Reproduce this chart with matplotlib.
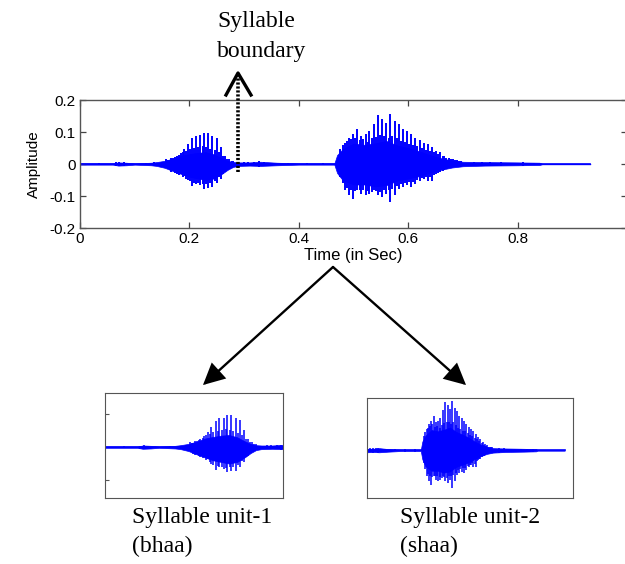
import matplotlib
matplotlib.use('agg')
import matplotlib.pyplot as plt
from matplotlib.patches import FancyArrowPatch
from matplotlib.lines import Line2D

# dense core of the speech waveform (upper / lower envelope)
core_t = [0.00, 0.06, 0.07, 0.085, 0.10, 0.13, 0.14, 0.155, 0.17, 0.185, 0.20,
          0.215, 0.23, 0.245, 0.26, 0.27, 0.28, 0.29, 0.31, 0.33, 0.36, 0.40,
          0.465, 0.47, 0.48, 0.50, 0.52, 0.54, 0.56, 0.58, 0.60, 0.62, 0.64,
          0.66, 0.68, 0.70, 0.74, 0.80, 0.84, 0.845, 0.933]
core_hi = [0.002, 0.002, 0.005, 0.004, 0.002, 0.004, 0.006, 0.010, 0.017, 0.026, 0.031,
           0.035, 0.037, 0.030, 0.017, 0.010, 0.006, 0.005, 0.005, 0.007, 0.004, 0.002,
           0.002, 0.028, 0.046, 0.064, 0.060, 0.065, 0.072, 0.058, 0.050, 0.040, 0.028,
           0.018, 0.011, 0.007, 0.006, 0.005, 0.004, 0.001, 0.001]
core_lo = [-0.002, -0.002, -0.005, -0.004, -0.002, -0.004, -0.006, -0.012, -0.022, -0.031, -0.040,
           -0.045, -0.050, -0.045, -0.030, -0.018, -0.009, -0.006, -0.005, -0.006, -0.004, -0.002,
           -0.002, -0.028, -0.050, -0.064, -0.064, -0.070, -0.066, -0.052, -0.045, -0.038, -0.027,
           -0.018, -0.011, -0.007, -0.005, -0.004, -0.003, -0.001, -0.001]

# pitch pulses of syllable 1 (bhaa)
pulse1_t = [0.158, 0.164, 0.170, 0.177, 0.184, 0.191, 0.197, 0.205, 0.212, 0.220,
            0.227, 0.234, 0.242, 0.250, 0.258, 0.265, 0.273, 0.280]
pulse1_hi = [0.015, 0.012, 0.020, 0.025, 0.035, 0.046, 0.062, 0.080, 0.088, 0.090,
             0.098, 0.098, 0.088, 0.082, 0.052, 0.026, 0.015, 0.010]
pulse1_lo = [-0.012, -0.020, -0.022, -0.030, -0.030, -0.036, -0.050, -0.070, -0.062, -0.067,
             -0.077, -0.074, -0.072, -0.060, -0.046, -0.026, -0.015, -0.010]
# smaller oscillations between the pulses
mid1_t = [0.161, 0.167, 0.174, 0.181, 0.188, 0.194, 0.201, 0.209, 0.216, 0.224,
          0.231, 0.238, 0.246, 0.254, 0.262, 0.269, 0.277]
mid1_hi = [0.012, 0.018, 0.022, 0.028, 0.036, 0.040, 0.046, 0.050, 0.052, 0.055,
           0.052, 0.048, 0.044, 0.036, 0.026, 0.016, 0.009]
mid1_lo = [-0.016, -0.024, -0.028, -0.034, -0.040, -0.046, -0.054, -0.058, -0.060, -0.064,
           -0.062, -0.060, -0.054, -0.042, -0.030, -0.019, -0.011]

# pitch pulses of syllable 2 (shaa)
pulse2_t = [0.476, 0.484, 0.491, 0.499, 0.507, 0.514, 0.522, 0.529, 0.537, 0.545,
            0.552, 0.560, 0.567, 0.575, 0.583, 0.590, 0.598, 0.605, 0.613, 0.621,
            0.628, 0.636, 0.643, 0.651, 0.659, 0.666, 0.674, 0.681, 0.689, 0.697]
pulse2_hi = [0.046, 0.067, 0.082, 0.093, 0.108, 0.088, 0.093, 0.103, 0.126, 0.153,
             0.142, 0.129, 0.157, 0.134, 0.124, 0.108, 0.103, 0.093, 0.082, 0.074,
             0.067, 0.062, 0.052, 0.041, 0.036, 0.026, 0.020, 0.016, 0.012, 0.010]
pulse2_lo = [-0.041, -0.082, -0.098, -0.108, -0.082, -0.093, -0.098, -0.093, -0.082, -0.098,
             -0.103, -0.093, -0.119, -0.098, -0.077, -0.072, -0.067, -0.072, -0.062, -0.052,
             -0.046, -0.052, -0.052, -0.031, -0.026, -0.019, -0.013, -0.009, -0.006, -0.005]
mid2_t = [0.480, 0.488, 0.495, 0.503, 0.511, 0.518, 0.526, 0.533, 0.541, 0.549,
          0.556, 0.564, 0.571, 0.579, 0.587, 0.594, 0.602, 0.609, 0.617, 0.625,
          0.632, 0.640, 0.647, 0.655, 0.663, 0.670, 0.678, 0.685, 0.693]
mid2_hi = [0.058, 0.072, 0.078, 0.082, 0.075, 0.078, 0.070, 0.080, 0.085, 0.090,
           0.088, 0.082, 0.088, 0.080, 0.072, 0.068, 0.062, 0.060, 0.055, 0.050,
           0.044, 0.040, 0.036, 0.030, 0.024, 0.018, 0.015, 0.012, 0.010]
mid2_lo = [-0.060, -0.075, -0.080, -0.085, -0.082, -0.080, -0.083, -0.086, -0.085, -0.088,
           -0.082, -0.080, -0.078, -0.070, -0.062, -0.060, -0.056, -0.055, -0.050, -0.045,
           -0.040, -0.042, -0.035, -0.027, -0.022, -0.017, -0.012, -0.009, -0.006]

# small noise blips in the quiet parts
noise_t = [0.035, 0.065, 0.072, 0.080, 0.120, 0.135, 0.300, 0.308, 0.318, 0.327,
           0.336, 0.350, 0.380, 0.415, 0.445, 0.72, 0.735, 0.75, 0.77, 0.79, 0.81, 0.83]
noise_amp = [0.003, 0.005, 0.006, 0.005, 0.003, 0.005, 0.006, 0.007, 0.006, 0.008,
             0.005, 0.004, 0.003, 0.004, 0.004, 0.007, 0.006, 0.005, 0.005, 0.004, 0.005, 0.004]

x_ticks = [0, 0.2, 0.4, 0.6, 0.8]
x_labels = ['0', '0.2', '0.4', '0.6', '0.8']
y_ticks = [-0.2, -0.1, 0, 0.1, 0.2]
y_labels = ['-0.2', '-0.1', '0', '0.1', '0.2']

BLUE = '#0000ff'
W, H = 625, 564


def draw_wave(ax, lw=1.4):
    ax.fill_between(core_t, core_lo, core_hi, color=BLUE, lw=0.5)
    ax.vlines(mid1_t, mid1_lo, mid1_hi, color=BLUE, lw=lw)
    ax.vlines(mid2_t, mid2_lo, mid2_hi, color=BLUE, lw=lw)
    ax.vlines(pulse1_t, pulse1_lo, pulse1_hi, color=BLUE, lw=lw)
    ax.vlines(pulse2_t, pulse2_lo, pulse2_hi, color=BLUE, lw=lw)
    ax.vlines(noise_t, [-a for a in noise_amp], noise_amp, color=BLUE, lw=lw)
    ax.plot([core_t[0], core_t[-1]], [0, 0], color=BLUE, lw=1.2)


def fx(px):
    return px / W


def fy(py):
    return 1 - py / H


fig = plt.figure(figsize=(6.25, 5.64), dpi=100)

# main waveform
ax = fig.add_axes([fx(80), fy(228), fx(547), 128 / H])
draw_wave(ax)
ax.set_xlim(0, 1)
ax.set_ylim(-0.2, 0.2)
ax.set_xticks(x_ticks)
ax.set_xticklabels(x_labels)
ax.set_yticks(y_ticks)
ax.set_yticklabels(y_labels)
ax.tick_params(direction='in', length=4, width=0.9, top=True, right=True,
               labelsize=11, colors='#444444', pad=3)
for lab in ax.get_xticklabels() + ax.get_yticklabels():
    lab.set_family('Liberation Sans')
    lab.set_color('black')
for s in ax.spines.values():
    s.set_color('#555555')
    s.set_linewidth(1.0)
ax.set_xlabel('Time (in Sec)', family='Liberation Sans', fontsize=12, labelpad=1)
ax.set_ylabel('Amplitude', family='Liberation Sans', fontsize=11, labelpad=6)

# syllable unit 1
ax1 = fig.add_axes([fx(105), fy(498), fx(178), 105 / H])
draw_wave(ax1, lw=1.1)
ax1.set_xlim(0, 0.33)
ax1.set_ylim(-0.155, 0.165)
ax1.set_xticks([])
ax1.set_yticks([-0.1, 0.1])
ax1.set_yticklabels([])
ax1.tick_params(direction='in', length=3, width=0.8, colors='#555555')
for s in ax1.spines.values():
    s.set_color('#555555')

# syllable unit 2
ax2 = fig.add_axes([fx(367), fy(498), fx(206), 100 / H])
draw_wave(ax2, lw=1.1)
ax2.set_xlim(0.29, 0.96)
ax2.set_ylim(-0.15, 0.165)
ax2.set_xticks([])
ax2.set_yticks([])
for s in ax2.spines.values():
    s.set_color('#555555')

# syllable boundary marker
fig.add_artist(Line2D([fx(238), fx(238)], [fy(172), fy(76)], color='black',
                      lw=2.6, linestyle=(0, (0.6, 0.5))))
fig.add_artist(Line2D([fx(226), fx(238), fx(251)], [fy(95), fy(73), fy(95)],
                      color='black', lw=2.4))
fig.text(fx(217), fy(22), 'Syllable', family='Liberation Serif', fontsize=17,
         va='center', ha='left')
fig.text(fx(217), fy(51), 'boundary', family='Liberation Serif', fontsize=17,
         va='center', ha='left')

# arrows to the segmented units
for tip in [(203, 385), (466, 385)]:
    arr = FancyArrowPatch((fx(333), fy(267)), (fx(tip[0]), fy(tip[1])),
                          transform=fig.transFigure, arrowstyle='-|>',
                          mutation_scale=32, lw=1.7, color='black',
                          shrinkA=0, shrinkB=0, joinstyle='miter')
    fig.add_artist(arr)

fig.text(fx(132), fy(518), 'Syllable unit-1', family='Liberation Serif', fontsize=17,
         va='center', ha='left')
fig.text(fx(132), fy(546), '(bhaa)', family='Liberation Serif', fontsize=17,
         va='center', ha='left')
fig.text(fx(400), fy(518), 'Syllable unit-2', family='Liberation Serif', fontsize=17,
         va='center', ha='left')
fig.text(fx(400), fy(546), '(shaa)', family='Liberation Serif', fontsize=17,
         va='center', ha='left')

fig.savefig('out.png', dpi=100)
